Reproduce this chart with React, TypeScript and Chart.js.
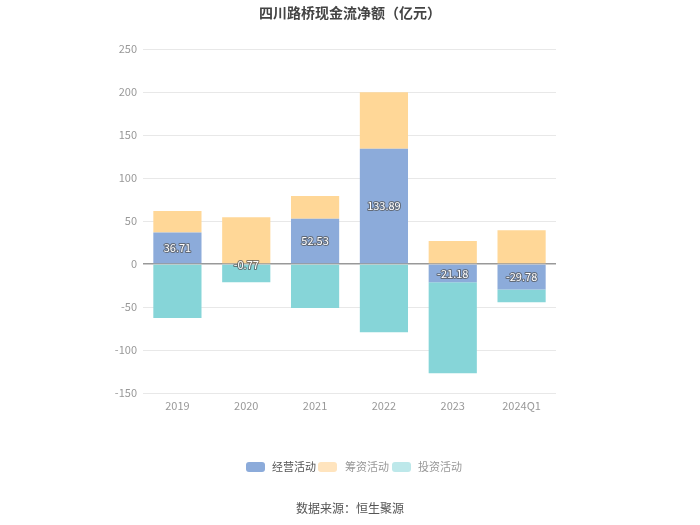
import React, { useEffect, useRef } from "react";
import { Chart, registerables } from "chart.js";

Chart.register(...registerables);

const categories = ["2019", "2020", "2021", "2022", "2023", "2024Q1"];
const operating = [36.71, -0.77, 52.53, 133.89, -21.18, -29.78];
const financing = [25.0, 54.3, 26.5, 65.8, 26.7, 39.2];
const investing = [-62.8, -20.5, -51.2, -79.4, -105.9, -14.8];
const seriesNames = ["经营活动", "筹资活动", "投资活动"];
const barColors = ["#8CABDA", "#FFD797", "#86D5D8"];
const legendColors = ["#8CABDA", "#FFE4BE", "#BDE8EA"];
const yTicks = [250, 200, 150, 100, 50, 0, -50, -100, -150];

const FONT = '"Microsoft YaHei", "Noto Sans CJK SC", "Noto Sans", sans-serif';

const decorPlugin = {
  id: "decor",
  afterDatasetsDraw(chart: any) {
    const ctx = chart.ctx;
    ctx.save();
    const meta = chart.getDatasetMeta(0);
    ctx.font = `11px ${FONT}`;
    ctx.textAlign = "center";
    ctx.textBaseline = "middle";
    ctx.lineJoin = "round";
    meta.data.forEach((bar: any, i: number) => {
      const v = operating[i];
      const txt = v.toFixed(2);
      const cy = (bar.y + bar.base) / 2;
      ctx.strokeStyle = "rgba(80,80,80,0.7)";
      ctx.lineWidth = 2;
      ctx.strokeText(txt, bar.x, cy);
      ctx.fillStyle = "#ffffff";
      ctx.fillText(txt, bar.x, cy);
    });
    ctx.restore();
  },
  afterDraw(chart: any) {
    const ctx = chart.ctx;
    ctx.save();
    ctx.font = `bold 14px ${FONT}`;
    ctx.fillStyle = "#444444";
    ctx.textAlign = "center";
    ctx.textBaseline = "middle";
    ctx.fillText("四川路桥现金流净额（亿元）", 350, 13);
    const items = [
      { x: 246, tx: 272 },
      { x: 318, tx: 345 },
      { x: 392, tx: 418 },
    ];
    ctx.font = `11px ${FONT}`;
    ctx.textAlign = "left";
    items.forEach((it, i) => {
      ctx.fillStyle = legendColors[i];
      const w = 19, h = 10, r = 3, x = it.x, y = 462;
      ctx.beginPath();
      ctx.moveTo(x + r, y);
      ctx.lineTo(x + w - r, y);
      ctx.quadraticCurveTo(x + w, y, x + w, y + r);
      ctx.lineTo(x + w, y + h - r);
      ctx.quadraticCurveTo(x + w, y + h, x + w - r, y + h);
      ctx.lineTo(x + r, y + h);
      ctx.quadraticCurveTo(x, y + h, x, y + h - r);
      ctx.lineTo(x, y + r);
      ctx.quadraticCurveTo(x, y, x + r, y);
      ctx.fill();
      ctx.fillStyle = i === 0 ? "#555555" : "#999999";
      ctx.fillText(seriesNames[i], it.tx, 467);
    });
    ctx.font = `12px ${FONT}`;
    ctx.fillStyle = "#555555";
    ctx.textAlign = "center";
    ctx.fillText("数据来源：恒生聚源", 350, 508);
    ctx.restore();
  },
};

export default function App() {
  const ref = useRef<HTMLCanvasElement>(null);
  useEffect(() => {
    document.body.style.margin = "0";
    const chart = new Chart(ref.current as HTMLCanvasElement, {
      type: "bar",
      data: {
        labels: categories,
        datasets: [
          { label: seriesNames[0], data: operating, backgroundColor: barColors[0] },
          { label: seriesNames[1], data: financing, backgroundColor: barColors[1] },
          { label: seriesNames[2], data: investing, backgroundColor: barColors[2] },
        ],
      },
      options: {
        animation: false,
        responsive: false,
        maintainAspectRatio: false,
        layout: { padding: { left: 0, right: 144, top: 49, bottom: 102 } },
        plugins: {
          legend: { display: false },
          title: { display: false },
          tooltip: { enabled: false },
        },
        datasets: { bar: { barPercentage: 0.7, categoryPercentage: 1 } },
        scales: {
          x: {
            stacked: true,
            grid: { display: false, drawTicks: false },
            border: { display: false },
            ticks: { color: "#999999", font: { size: 11, family: FONT }, padding: 6 },
            afterFit: (s: any) => { s.height = 30; },
          },
          y: {
            stacked: true,
            min: -150,
            max: 250,
            afterBuildTicks: (s: any) => { s.ticks = yTicks.map((v) => ({ value: v })); },
            grid: {
              drawTicks: false,
              color: (c: any) => (c.tick && c.tick.value === 0 ? "#999999" : "#E8E8E8"),
              lineWidth: (c: any) => (c.tick && c.tick.value === 0 ? 1.5 : 1),
            },
            border: { display: false },
            ticks: { color: "#999999", font: { size: 11, family: FONT }, padding: 6 },
            afterFit: (s: any) => { s.width = 143; },
          },
        },
      },
      plugins: [decorPlugin],
    });
    return () => chart.destroy();
  }, []);
  return (
    <div style={{ position: "fixed", left: 0, top: 0, width: 700, height: 525, background: "#fff" }}>
      <canvas ref={ref} width={700} height={525} style={{ width: 700, height: 525 }} />
    </div>
  );
}
